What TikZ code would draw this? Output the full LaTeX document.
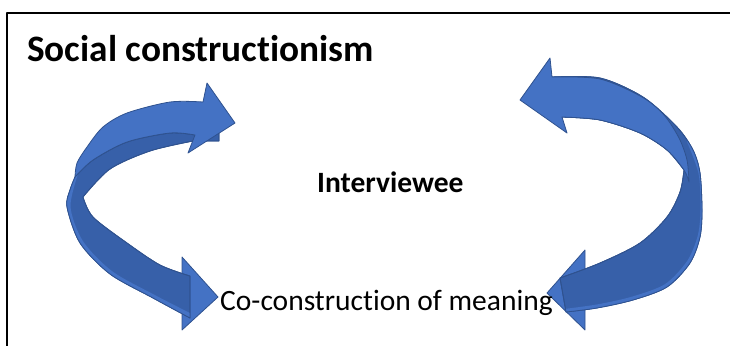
\documentclass[tikz,border=0pt]{standalone}
\usepackage{fontspec}
\setmainfont[Ligatures=NoCommon]{Carlito}
\definecolor{lb}{HTML}{4472C4}
\definecolor{db}{HTML}{3760A9}
\definecolor{edgec}{HTML}{2F528F}
\newcommand\lsil{plot[smooth] coordinates {(75,177) (93,160) (127,142) (170,133) (195,135)}
 -- (219,133) -- (219,141) -- (193,141)
 -- plot[smooth] coordinates {(193,141) (150,151) (110,169) (83,197)}
 -- plot[smooth] coordinates {(83,197) (93,217) (127,243) (160,265) (190,276)}
 -- (190,318) -- plot[smooth] coordinates {(190,318) (153,298) (110,274) (80,243) (67,207) (70,190) (75,177)} -- cycle}
\newcommand\rsil{plot[smooth] coordinates {(552,77) (600,78) (643,97) (677,127) (693,150) (700,173) (702,210) (700,237) (690,263) (667,287) (633,300) (597,308) (566,312)}
 -- (560,278) -- plot[smooth] coordinates {(560,278) (600,263) (640,243) (667,217) (680,192) (684,170)}
 -- plot[smooth] coordinates {(684,170) (667,150) (640,133) (600,120) (562,117)} -- cycle}
\begin{document}
\begin{tikzpicture}[x=1pt,y=-1pt,line join=round,
  shp/.style={draw=edgec,line width=0.8pt},
  ttl/.style={font=\bfseries\fontsize{37.3}{43}\selectfont,inner sep=0pt,anchor=base west},
  lbl/.style={font=\fontsize{29.5}{34}\selectfont,inner sep=0pt,anchor=base west}]
\useasboundingbox (0,0) rectangle (730,345);
\draw[line width=1.6pt] (7,352) -- (7,13) -- (740,13);
% ---- left curved arrow ----
\filldraw[shp,fill=lb] (182,257) -- (218,297) -- (182,330) -- cycle;
\filldraw[shp,fill=db] \lsil;
\begin{scope}
 \clip \lsil;
 \draw[lb,line width=7pt] plot[smooth] coordinates {(75,172) (67,207) (80,243) (110,274) (153,298) (192,318)};
\end{scope}
\draw[shp] \lsil;
\filldraw[shp,fill=lb] plot[smooth] coordinates {(75,177) (77,163) (87,147) (103,127) (127,113) (170,102) (203,102)}
 -- (207,83) -- (235,123) -- (188,153) -- (195,135)
 -- plot[smooth] coordinates {(195,135) (170,133) (127,142) (93,160) (75,177)} -- cycle;
% ---- right curved arrow ----
\filldraw[shp,fill=lb] (585,250) -- (547,293) -- (585,330) -- cycle;
\filldraw[shp,fill=db] \rsil;
\begin{scope}
 \clip \rsil;
 \draw[lb,line width=7pt] plot[smooth] coordinates {(690,140) (702,173) (704,210) (701,237) (690,263) (667,287) (633,300) (597,308) (560,313)};
\end{scope}
\draw[shp] \rsil;
\filldraw[shp,fill=lb] plot[smooth] coordinates {(552,77) (600,79) (642,97) (664,115) (679,138) (687,160) (689,182)}
 -- plot[smooth] coordinates {(689,182) (684,170) (667,150) (640,133) (600,120) (562,117)}
 -- (567,133) -- (520,100) -- (550,58) -- cycle;
% ---- texts ----
\node[ttl] (title) at (27,62) {Social constructionism};
\node[ttl,font=\bfseries\fontsize{29.5}{34}\selectfont] (iv) at (317,192) {Interviewee};
\node[lbl] (cc) at (220,310) {Co-construction of meaning};
\end{tikzpicture}
\end{document}
